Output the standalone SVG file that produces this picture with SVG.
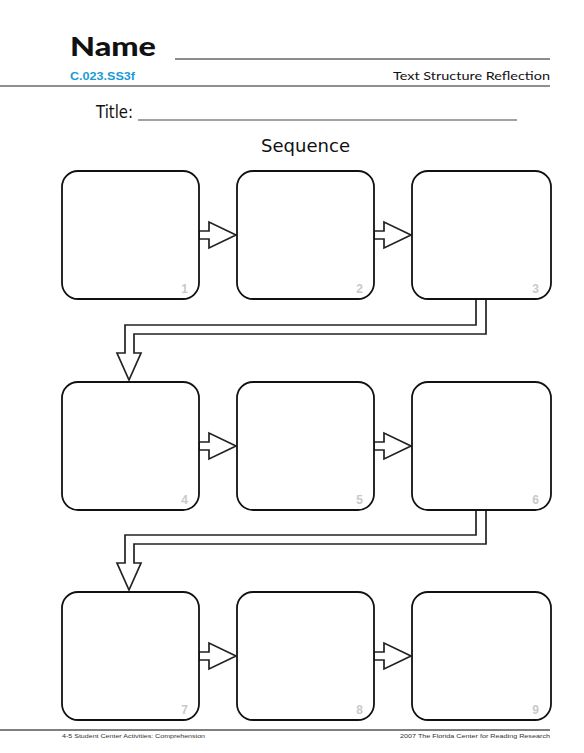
<svg xmlns="http://www.w3.org/2000/svg" width="584" height="753" viewBox="0 0 584 753">
<style>
.box{fill:#fff;stroke:#111;stroke-width:1.8}
.conn{fill:#fff;stroke:#222;stroke-width:1.7;stroke-linejoin:miter}
.num{font-family:"Liberation Sans",Arial,sans-serif;font-weight:bold;font-size:12px;fill:#c9c9c9;text-anchor:end}
.foot{font-family:"Liberation Sans",Arial,sans-serif;font-size:5px;fill:#333}
</style>
<defs>
<polygon id="arR" points="199,231 209,231 209,222 236,235 209,248 209,239 199,239"/>
<path id="arD" d="M476,299 V325 H125 V353 H117 L129,380 L141,353 H134 V334 H486 V299"/>
</defs>
<rect width="584" height="753" fill="#fff"/>
<g id="header">
<text x="70" y="56" font-family="Lato,'Liberation Sans',sans-serif" font-weight="900" font-size="27" fill="#111" textLength="86" lengthAdjust="spacingAndGlyphs">Name</text>
<line x1="175" y1="59" x2="550" y2="59" stroke="#666" stroke-width="1.4"/>
<text x="70" y="80" font-family="'Liberation Sans',Arial,sans-serif" font-weight="bold" font-size="11.5" fill="#1b9ad8" textLength="65" lengthAdjust="spacingAndGlyphs">C.023.SS3f</text>
<text x="550" y="80" text-anchor="end" font-family="Lato,'Liberation Sans',sans-serif" font-size="11" fill="#111" textLength="157" lengthAdjust="spacingAndGlyphs">Text Structure Reflection</text>
<line x1="0" y1="86" x2="550" y2="86" stroke="#222" stroke-width="1.2"/>
<text x="96" y="118" font-family="'DejaVu Sans',sans-serif" font-size="17" fill="#111" textLength="37" lengthAdjust="spacingAndGlyphs">Title:</text>
<line x1="138" y1="120" x2="517" y2="120" stroke="#444" stroke-width="1.2"/>
<text x="305.5" y="152" text-anchor="middle" font-family="'DejaVu Sans',sans-serif" font-size="17" fill="#111" textLength="89" lengthAdjust="spacingAndGlyphs">Sequence</text>
</g>
<g id="connectors">
<use href="#arR" class="conn"/>
<use href="#arR" class="conn" transform="translate(175,0)"/>
<use href="#arD" class="conn"/>
<use href="#arR" class="conn" transform="translate(0,211)"/>
<use href="#arR" class="conn" transform="translate(175,211)"/>
<use href="#arD" class="conn" transform="translate(0,210)"/>
<use href="#arR" class="conn" transform="translate(0,421)"/>
<use href="#arR" class="conn" transform="translate(175,421)"/>
</g>
<g id="node1"><rect class="box" x="62" y="171" width="137" height="128" rx="16"/><text class="num" x="188" y="293">1</text></g>
<g id="node2"><rect class="box" x="237" y="171" width="137" height="128" rx="16"/><text class="num" x="363" y="293">2</text></g>
<g id="node3"><rect class="box" x="412" y="171" width="139" height="128" rx="16"/><text class="num" x="539" y="293">3</text></g>
<g id="node4"><rect class="box" x="62" y="382" width="137" height="128" rx="16"/><text class="num" x="188" y="504">4</text></g>
<g id="node5"><rect class="box" x="237" y="382" width="137" height="128" rx="16"/><text class="num" x="363" y="504">5</text></g>
<g id="node6"><rect class="box" x="412" y="382" width="139" height="128" rx="16"/><text class="num" x="539" y="504">6</text></g>
<g id="node7"><rect class="box" x="62" y="592" width="137" height="128" rx="16"/><text class="num" x="188" y="714">7</text></g>
<g id="node8"><rect class="box" x="237" y="592" width="137" height="128" rx="16"/><text class="num" x="363" y="714">8</text></g>
<g id="node9"><rect class="box" x="412" y="592" width="139" height="128" rx="16"/><text class="num" x="539" y="714">9</text></g>
<g id="footer">
<line x1="0" y1="730" x2="550" y2="730" stroke="#555" stroke-width="1.5"/>
<text class="foot" x="62" y="738" textLength="143" lengthAdjust="spacingAndGlyphs">4-5 Student Center Activities: Comprehension</text>
<text class="foot" x="550" y="738" text-anchor="end" textLength="150" lengthAdjust="spacingAndGlyphs">2007 The Florida Center for Reading Research</text>
</g>
</svg>
